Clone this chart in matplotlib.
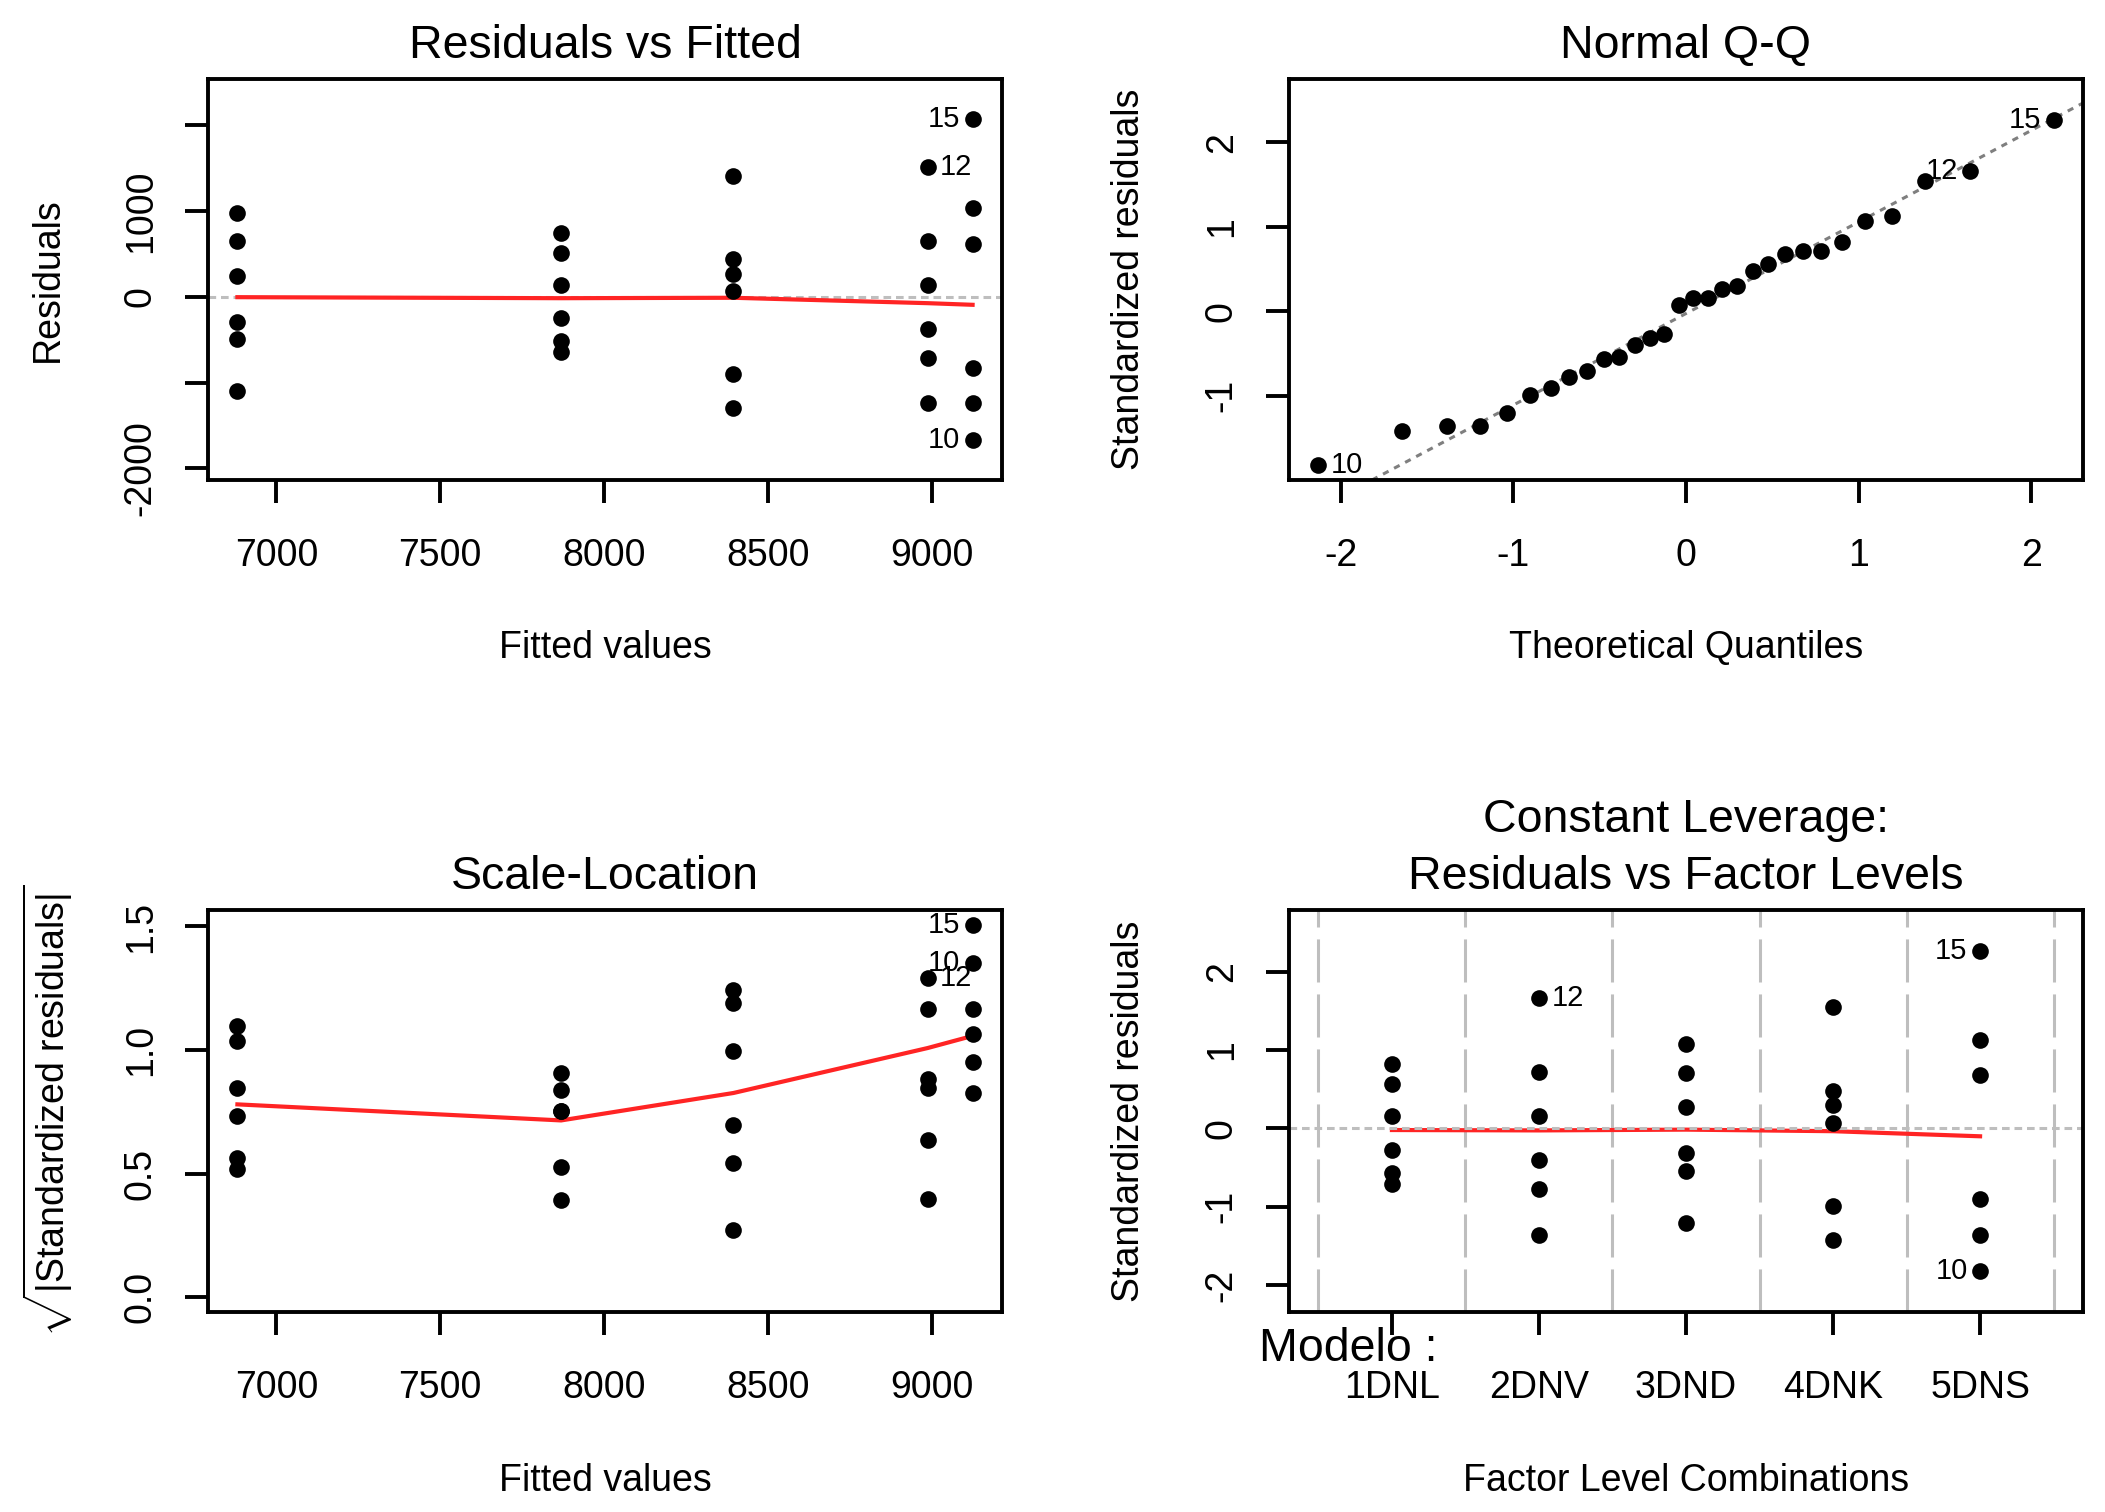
import numpy as np
import matplotlib
matplotlib.use('Agg')
import matplotlib.pyplot as plt
from statistics import NormalDist

plt.rcParams['font.family'] = ['Liberation Sans', 'DejaVu Sans']
plt.rcParams['mathtext.fontset'] = 'custom'
plt.rcParams['mathtext.rm'] = 'Liberation Sans'
plt.rcParams['mathtext.it'] = 'Liberation Sans:italic'
plt.rcParams['mathtext.bf'] = 'Liberation Sans:bold'
plt.rcParams['lines.scale_dashes'] = False
plt.rcParams['axes.unicode_minus'] = False

# ---------------- data ----------------
levels = ['1DNL', '2DNV', '3DND', '4DNK', '5DNS']
fitted_level = [7869, 8988, 6881, 8395, 9125]
# residuals per level in replicate order (observation id = 5*k + level number)
resid_1DNL = [749, 515, 140, -251, -516, -641]
resid_2DNV = [652, -370, 1520, 143, -709, -1238]
resid_3DND = [979, 650, 244, -287, -490, -1099]
resid_4DNK = [1408, 440, 268, 68, -904, -1295]
resid_5DNS = [622, -1663, 2069, 1034, -825, -1238]

# smoother values
smooth_x = [6881, 7869, 8395, 8988, 9125]
smooth_rvf = [-3, -15, -10, -73, -92]
smooth_sl = [0.78, 0.715, 0.826, 1.008, 1.057]
smooth_rvl = [-0.02, -0.025, -0.015, -0.035, -0.10]

xticks_fit = [7000, 7500, 8000, 8500, 9000]
yticks_rvf = [-2000, -1000, 0, 1000, 2000]
yticklabels_rvf = ['-2000', '', '0', '1000', '']
xticks_qq = [-2, -1, 0, 1, 2]
yticks_qq = [-1, 0, 1, 2]
yticks_sl = [0.0, 0.5, 1.0, 1.5]
yticklabels_sl = ['0.0', '0.5', '1.0', '1.5']
yticks_rvl = [-2, -1, 0, 1, 2]

# ---------------- derived ----------------
resid_by_level = [resid_1DNL, resid_2DNV, resid_3DND, resid_4DNK, resid_5DNS]
obs_id, fit, res, lev = [], [], [], []
for j, rl in enumerate(resid_by_level):
    for k, r in enumerate(rl):
        obs_id.append(5 * k + j + 1)
        fit.append(fitted_level[j])
        res.append(r)
        lev.append(j + 1)
obs_id = np.array(obs_id); fit = np.array(fit, float)
res = np.array(res, float); lev = np.array(lev)
n = len(res); p = len(levels)
sigma = np.sqrt(np.sum(res ** 2) / (n - p))
hat = 1.0 / 6
std = res / (sigma * np.sqrt(1 - hat))


def ext(lo, hi, f=0.04):
    d = hi - lo
    return lo - f * d, hi + f * d


# ---------------- style ----------------
W, H = 2105, 1512
fig = plt.figure(figsize=(W / 100, H / 100), dpi=100)
TICK = 27
TITLE = 33.5
IDS = 21
PT_MS = 12
RED = '#FF2424'
SPINE = 2.8


def make_ax(x0, x1, y0, y1):
    ax = fig.add_axes([x0 / W, 1 - y1 / H, (x1 - x0) / W, (y1 - y0) / H])
    for s in ax.spines.values():
        s.set_linewidth(SPINE)
    ax.tick_params(length=16.5, width=SPINE, labelsize=TICK, pad=19)
    ax.tick_params(axis='x', pad=25)
    return ax


def finish(ax, title, xlabel, ylabel, title_y=1.083):
    for t in ax.get_yticklabels():
        t.set_rotation(90)
        t.set_va('center')
    if title is not None:
        ax.text(0.5, title_y, title, transform=ax.transAxes, ha='center',
                va='center', fontsize=TITLE)
    ax.set_xlabel(xlabel, fontsize=TICK)
    ax.xaxis.label.set_va('center')
    ax.xaxis.set_label_coords(0.5, -0.42)
    ax.set_ylabel(ylabel, fontsize=TICK)
    ax.yaxis.label.set_va('center')
    ax.yaxis.set_label_coords(-0.202, 0.5)


def label_ids(ax, xs, ys, ids, sides):
    for x, y, i in zip(xs, ys, ids):
        if i in sides:
            if sides[i] == 'left':
                ax.annotate(str(i), (x, y), xytext=(-9, 0), textcoords='offset points',
                            ha='right', va='center', fontsize=IDS)
            else:
                ax.annotate(str(i), (x, y), xytext=(9, 0), textcoords='offset points',
                            ha='left', va='center', fontsize=IDS)


DOT = (0, (5.5, 3.5))

# ---- Panel 1: Residuals vs Fitted ----
ax1 = make_ax(208, 1002, 79, 480)
ax1.axhline(0, color='#BEBEBE', lw=2.2, linestyle=DOT, zorder=1)
ax1.plot(smooth_x, smooth_rvf, color=RED, lw=3.0, zorder=2)
ax1.plot(fit, res, 'o', color='black', ms=PT_MS, mew=0, zorder=3)
ax1.set_xlim(*ext(fit.min(), fit.max()))
lo, hi = ext(res.min(), res.max(), 0.08)
ax1.set_ylim(*ext(lo, hi))
ax1.set_xticks(xticks_fit)
ax1.set_yticks(yticks_rvf)
ax1.set_yticklabels(yticklabels_rvf)
label_ids(ax1, fit, res, obs_id, {15: 'left', 12: 'right', 10: 'left'})
finish(ax1, 'Residuals vs Fitted', 'Fitted values', 'Residuals')

# ---- Panel 2: Normal Q-Q ----
ax2 = make_ax(1289, 2083, 79, 480)
nd = NormalDist()
pp = (np.arange(1, n + 1) - 0.5) / n
theo = np.array([nd.inv_cdf(v) for v in pp])
order = np.argsort(std)
std_sorted = std[order]
ids_sorted = obs_id[order]
yq = np.quantile(std, [0.25, 0.75])
xq = np.array([nd.inv_cdf(0.25), nd.inv_cdf(0.75)])
slope = (yq[1] - yq[0]) / (xq[1] - xq[0])
ax2.axline((xq[0], yq[0]), slope=slope, color='#7F7F7F', lw=2.2,
           linestyle=(0, (4.5, 4.5)), zorder=1)
ax2.plot(theo, std_sorted, 'o', color='black', ms=PT_MS, mew=0, zorder=3)
ax2.set_xlim(*ext(theo.min(), theo.max()))
lo, hi = std.min(), std.max()
hi = hi + 0.075 * (hi - lo)
ax2.set_ylim(*ext(lo, hi))
ax2.set_xticks(xticks_qq)
ax2.set_yticks(yticks_qq)
label_ids(ax2, theo, std_sorted, ids_sorted, {10: 'right', 12: 'left', 15: 'left'})
finish(ax2, 'Normal Q-Q', 'Theoretical Quantiles', 'Standardized residuals')

# ---- Panel 3: Scale-Location ----
ax3 = make_ax(208, 1002, 910, 1312)
sq = np.sqrt(np.abs(std))
ax3.plot(smooth_x, smooth_sl, color=RED, lw=3.0, zorder=2)
ax3.plot(fit, sq, 'o', color='black', ms=PT_MS, mew=0, zorder=3)
ax3.set_xlim(*ext(fit.min(), fit.max()))
ax3.set_ylim(*ext(0, sq.max()))
ax3.set_xticks(xticks_fit)
ax3.set_yticks(yticks_sl)
ax3.set_yticklabels(yticklabels_sl)
label_ids(ax3, fit, sq, obs_id, {15: 'left', 10: 'left', 12: 'right'})
finish(ax3, 'Scale-Location', 'Fitted values',
       r'$\sqrt{|\mathrm{Standardized\ residuals}|}$')

# ---- Panel 4: Residuals vs Factor Levels ----
ax4 = make_ax(1289, 2083, 910, 1312)
for b in np.arange(0.5, len(levels) + 1, 1.0):
    ax4.axvline(b, color='#BEBEBE', lw=2.2, linestyle=(0, (31, 8.6)), zorder=1)
ax4.plot(np.arange(1, len(levels) + 1), smooth_rvl, color=RED, lw=3.0, zorder=2)
ax4.axhline(0, color='#BEBEBE', lw=2.2, linestyle=DOT, zorder=2.5)
ax4.plot(lev, std, 'o', color='black', ms=PT_MS, mew=0, zorder=3)
ax4.set_xlim(*ext(0.5, len(levels) + 0.5))
lo, hi = ext(std.min(), std.max(), 0.08)
ax4.set_ylim(*ext(lo, hi))
ax4.set_xticks(np.arange(1, len(levels) + 1))
ax4.set_xticklabels(levels)
ax4.set_yticks(yticks_rvl)
label_ids(ax4, lev, std, obs_id, {15: 'left', 12: 'right', 10: 'left'})
finish(ax4, 'Residuals vs Factor Levels', 'Factor Level Combinations',
       'Standardized residuals')
ax4.text(0.5, 1.225, 'Constant Leverage:', transform=ax4.transAxes, ha='center',
         va='center', fontsize=TITLE)
ax4.text(-0.038, -0.122, 'Modelo :', transform=ax4.transAxes, ha='left',
         va='baseline', fontsize=TITLE)

fig.savefig('out.png', dpi=100, facecolor='white')
